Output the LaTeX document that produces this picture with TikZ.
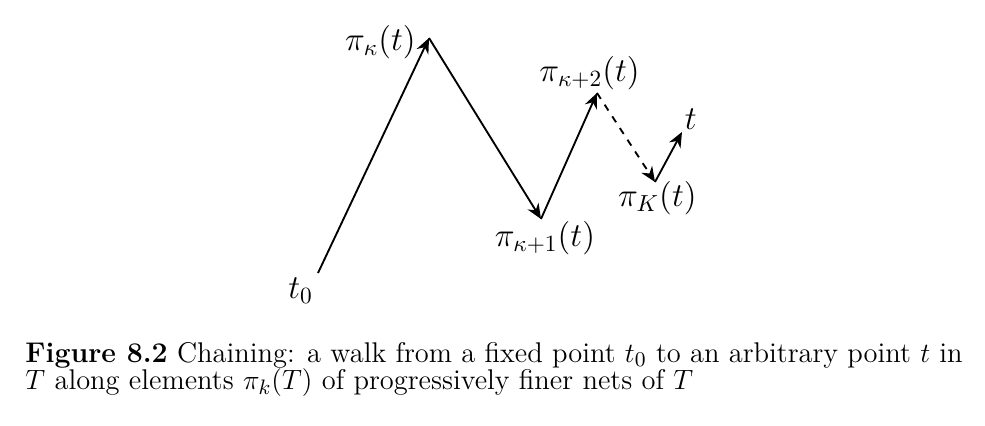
\documentclass[tikz,border=0pt]{standalone}
\usepackage{amsmath}
\usepackage{amssymb}
\usepackage{tikz}
\usetikzlibrary{positioning,arrows.meta}

\begin{document}
\begin{tikzpicture}[x=0.43pt, y=-0.43pt, >={Stealth[length=6.5pt,width=5.5pt]},
walknode/.style={inner sep=1pt, font=\Large},
walkline/.style={->, line width=0.8pt},
]
\useasboundingbox (0,0) rectangle (985,426);
%Points
\coordinate (start) at (318,273);
\coordinate (pk) at (429,38);
\coordinate (pk1) at (541,219);
\coordinate (pk2) at (597,93);
\coordinate (pK) at (655,182);
\coordinate (end) at (682,132);

%Nodes
\node[walknode, below left=1pt and 1pt of start] (start label) {$t_0$};
\node[walknode, left=4.5pt of pk, yshift=-1.7pt] (pk label) {$\pi_\kappa(t)$};
\node[walknode, below=0pt of pk1, xshift=1.7pt] (pk1 label) {$\pi_{\kappa+1}(t)$};
\node[walknode, above=0pt of pk2, xshift=-3.2pt] (pk2 label) {$\pi_{\kappa+2}(t)$};
\node[walknode, below=-1.5pt of pK, xshift=1pt] (pK label) {$\pi_K(t)$};
\node[walknode, above right=0pt and 0pt of end] (end label) {$t$};

%Lines
\draw[walkline] (start) -- (pk);
\draw[walkline] (pk) -- (pk1);
\draw[walkline] (pk1) -- (pk2);
\draw[walkline, dashed] (pk2) -- (pK);
\draw[walkline] (pK) -- (end);

%Caption
\node[anchor=base west, inner sep=0pt, align=left, font=\fontsize{12.25}{12}\selectfont] (caption) at (25,390)
  {\textbf{Figure 8.2} Chaining: a walk from a fixed point $t_0$ to an arbitrary point $t$ in\\
   $T$ along elements $\pi_k(T)$ of progressively finer nets of $T$};
\end{tikzpicture}
\end{document}
